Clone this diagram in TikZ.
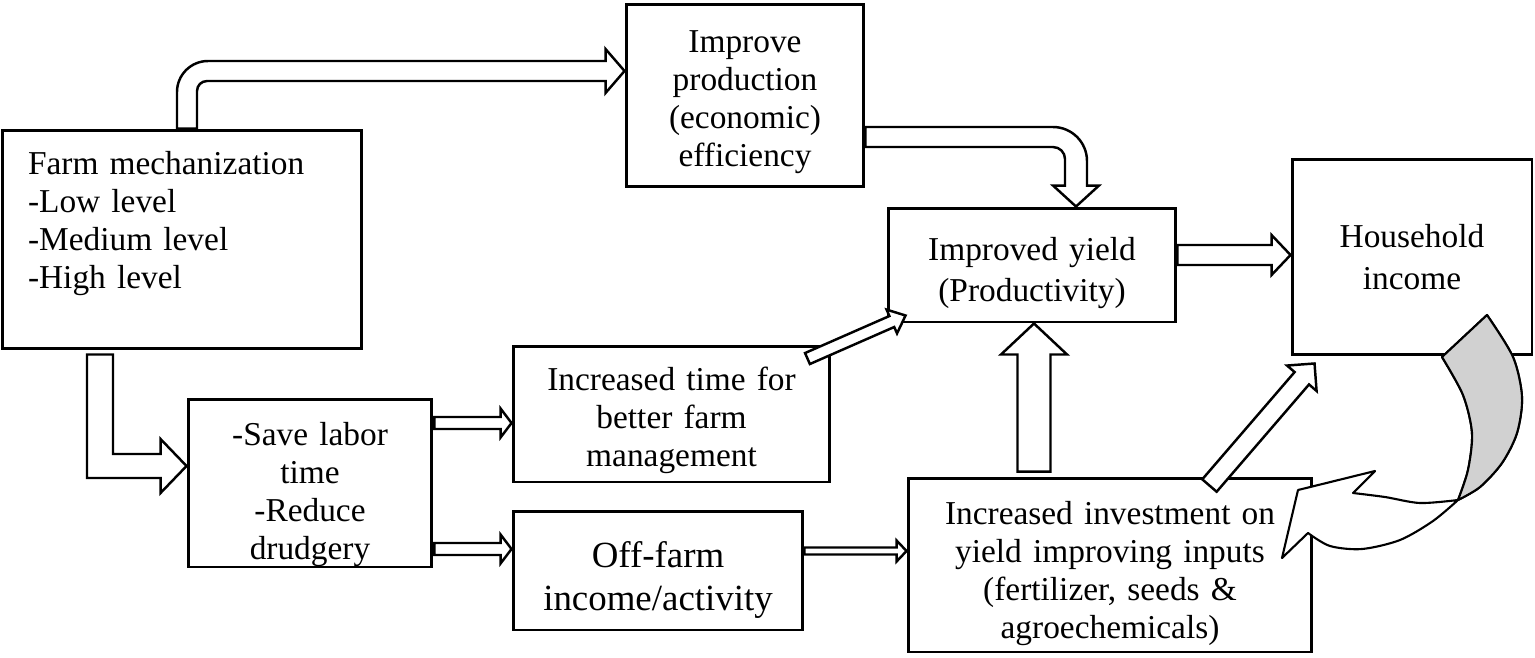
\documentclass[tikz,border=0pt]{standalone}
\usepackage{fontspec}
\setmainfont{Liberation Serif}
\usetikzlibrary{calc}

% hollow block arrow: shaft half width, head half width, head length, from, to
\newcommand{\blockarrow}[5]{%
  \coordinate (ba-s) at (#4);
  \coordinate (ba-e) at (#5);
  \coordinate (ba-h) at ($(ba-e)!#3!(ba-s)$);
  \draw[arrowbody] ($(ba-s)!#1!90:(ba-e)$) -- ($(ba-h)!#1!90:(ba-e)$)
    -- ($(ba-h)!#2!90:(ba-e)$) -- (ba-e) -- ($(ba-h)!#2!-90:(ba-e)$)
    -- ($(ba-h)!#1!-90:(ba-e)$) -- ($(ba-s)!#1!-90:(ba-e)$) -- cycle;
}

\begin{document}
\begin{tikzpicture}[
    x=0.02cm, y=-0.02cm,
    flowbox/.style={
      draw,
      line width=1.7pt,
      align=center,
      inner sep=2pt,
      font=\fontsize{19}{21.7}\selectfont
    },
    textdrop/.style={execute at begin node={\rule{0pt}{#1}}},
    arrowbody/.style={
      draw,
      fill=white,
      line width=1.4pt,
      line join=miter
    },
    ribbon/.style={
      draw,
      line width=1.2pt,
      line join=round
    }
  ]
  \useasboundingbox (0,0) rectangle (1535,657);

  % boxes
  \node[flowbox, textdrop=19pt, minimum width=7.2cm, minimum height=4.38cm, text width=6.16cm, align=left] (mech) at (182,239.5) {
    Farm mechanization\\-Low level\\-Medium level\\-High level\\ \strut
  };
  \node[flowbox, textdrop=20pt, minimum width=4.76cm, minimum height=3.66cm, text width=4.4cm] (prod) at (745,95.5) {
    Improve\\production\\(economic)\\efficiency
  };
  \node[flowbox, textdrop=22pt, minimum width=5.76cm, minimum height=2.28cm, text width=5.4cm, font=\fontsize{19}{23.5}\selectfont] (yield) at (1032,265) {
    Improved yield\\(Productivity)
  };
  \node[flowbox, minimum width=4.8cm, minimum height=3.92cm, text width=4.4cm, font=\fontsize{19}{23.5}\selectfont] (house) at (1412,257) {
    Household\\income
  };
  \node[flowbox, textdrop=26pt, inner ysep=0pt, minimum width=4.88cm, minimum height=3.36cm, text width=4.5cm] (save) at (310,483) {
    -Save labor\\time\\-Reduce\\drudgery
  };
  \node[flowbox, textdrop=21pt, minimum width=6.34cm, minimum height=2.72cm, text width=6cm] (time) at (671.5,414) {
    Increased time for\\better farm\\management
  };
  \node[flowbox, textdrop=25.6pt, minimum width=5.8cm, minimum height=2.38cm, text width=5.5cm, font=\fontsize{21}{24.4}\selectfont] (off) at (658,570.5) {
    Off-farm\\income/activity
  };
  \node[flowbox, textdrop=23pt, minimum width=8.08cm, minimum height=3.48cm, text width=7.8cm] (inv) at (1110,565) {
    Increased investment on\\yield improving inputs\\(fertilizer, seeds \&\\agroechemicals)
  };

  % bent arrows
  \coordinate (ab-s) at ($(mech.north)+(5,0)$);
  \coordinate (ab-e) at ($(prod.west)+(0,-24.5)$);
  \draw[arrowbody] (ab-s) -- ($(ab-s)+(-10,0)$)
    [rounded corners=0.62cm] -- ($(ab-s |- ab-e)+(-10,-10)$)
    [sharp corners] -- ($(ab-e)+(-19,-10)$) -- ($(ab-e)+(-19,-22)$) -- (ab-e)
    -- ($(ab-e)+(-19,22)$) -- ($(ab-e)+(-19,10)$)
    [rounded corners=0.2cm] -- ($(ab-s |- ab-e)+(10,10)$)
    [sharp corners] -- ($(ab-s)+(10,0)$) -- cycle;

  \coordinate (pc-s) at ($(prod.east)+(0,41.5)$);
  \coordinate (pc-e) at ($(yield.north)+(44,0)$);
  \draw[arrowbody] (pc-s) -- ($(pc-s)+(0,-10)$)
    [rounded corners=0.68cm] -- ($(pc-e |- pc-s)+(11,-10)$)
    [sharp corners] -- ($(pc-e)+(11,-21)$) -- ($(pc-e)+(23,-21)$) -- (pc-e)
    -- ($(pc-e)+(-23,-21)$) -- ($(pc-e)+(-11,-21)$)
    [rounded corners=0.24cm] -- ($(pc-e |- pc-s)+(-11,10)$)
    [sharp corners] -- ($(pc-s)+(0,10)$) -- cycle;

  \coordinate (ms-s) at ($(mech.south)+(-82,4)$);
  \coordinate (ms-e) at ($(save.west)+(0,-17)$);
  \draw[arrowbody] ($(ms-s)+(-13,0)$) -- ($(ms-s |- ms-e)+(-13,12)$)
    -- ($(ms-e)+(-26,12)$) -- ($(ms-e)+(-26,27)$) -- (ms-e)
    -- ($(ms-e)+(-26,-27)$) -- ($(ms-e)+(-26,-12)$)
    -- ($(ms-s |- ms-e)+(13,-12)$) -- ($(ms-s)+(13,0)$) -- cycle;

  % straight arrows
  \coordinate (st-s) at ($(save.east)+(1,-60)$);
  \blockarrow{0.12cm}{0.29cm}{0.22cm}{st-s}{st-s -| time.west}
  \coordinate (so-s) at ($(save.east)+(1,66)$);
  \blockarrow{0.12cm}{0.29cm}{0.22cm}{so-s}{so-s -| off.west}
  \coordinate (oi-s) at ($(off.east)+(0,-19.5)$);
  \blockarrow{0.07cm}{0.21cm}{0.2cm}{oi-s}{oi-s -| inv.west}
  \coordinate (ty-s) at ($(time.north east)+(-24,14)$);
  \blockarrow{0.12cm}{0.26cm}{0.3cm}{ty-s}{$(yield.south west)+(19,-8)$}
  \coordinate (iy-s) at ($(inv.north)+(-76,-5)$);
  \blockarrow{0.33cm}{0.66cm}{0.62cm}{iy-s}{iy-s |- yield.south}
  \coordinate (yh-s) at ($(yield.east)+(0,-10)$);
  \blockarrow{0.2cm}{0.4cm}{0.38cm}{yh-s}{yh-s -| house.west}
  \coordinate (ih-s) at ($(inv.north east)+(-104,9)$);
  \blockarrow{0.19cm}{0.39cm}{0.39cm}{ih-s}{$(house.south west)+(24,7)$}

  % curved return arrow
  \draw[ribbon, fill=white] (1442,357) -- (1487,315)
    -- plot[smooth] coordinates {(1487,315) (1513,357) (1522,397) (1517,433) (1502,463) (1480,487) (1458,500)}
    -- plot[smooth] coordinates {(1458,500) (1433,521) (1400,540) (1362,549) (1330,546) (1308,533)}
    -- (1282,558) -- (1298,490) -- (1375,471) -- (1353,493)
    -- plot[smooth] coordinates {(1353,493) (1385,497) (1420,503) (1458,500)}
    -- plot[smooth] coordinates {(1458,500) (1468,470) (1472,433) (1463,395) (1442,357)}
    -- cycle;
  \draw[ribbon, fill=black!18] (1442,357) -- (1487,315)
    -- plot[smooth] coordinates {(1487,315) (1513,357) (1522,397) (1517,433) (1502,463) (1480,487) (1458,500)}
    -- plot[smooth] coordinates {(1458,500) (1468,470) (1472,433) (1463,395) (1442,357)}
    -- cycle;
\end{tikzpicture}
\end{document}
